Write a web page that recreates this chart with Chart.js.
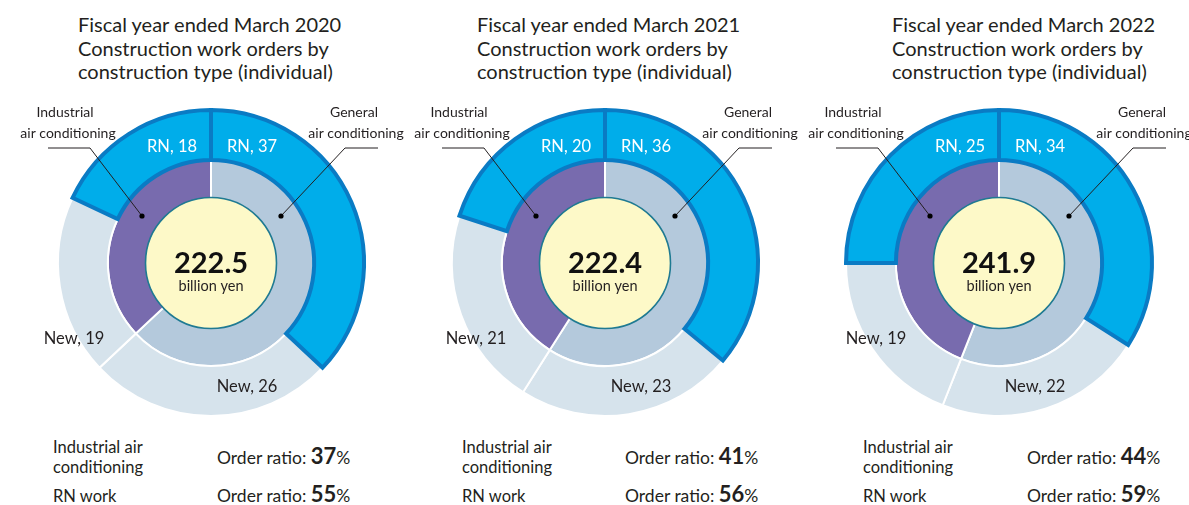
<!DOCTYPE html>
<html>
<head>
<meta charset="utf-8">
<script src="https://cdn.jsdelivr.net/npm/chart.js@4.4.1/dist/chart.umd.min.js"></script>
<style>
  body { margin: 0; width: 1189px; height: 505px; overflow: hidden; background: #fff;
         font-family: Lato, "Open Sans", sans-serif; color: #231f20; position: relative; }
  .title { position: absolute; top: 13px; font-size: 20px; line-height: 23.5px; white-space: nowrap; }
  .ring { position: absolute; top: 93px; }
  .foot { position: absolute; font-size: 16.5px; line-height: 20px; white-space: nowrap; }
  .ratio { font-size: 17.5px; }
  .ratio b { font-size: 22px; }
</style>
</head>
<body>
<div id="page"></div>
<script>
// values (billion yen shares, %)
const years = ["2020", "2021", "2022"];
const totals = ["222.5", "222.4", "241.9"];
const rnGeneral = [37, 36, 34];
const newGeneral = [26, 23, 22];
const newIndustrial = [19, 21, 19];
const rnIndustrial = [18, 20, 25];
const industrialRatio = [37, 41, 44];
const rnRatio = [55, 56, 59];

const FONT = "Lato, 'Open Sans', sans-serif";
const INK = "#231f20";

// layout per panel
const ringCenterX = [211, 605, 999];
const titleLeft = [78, 477, 892];
const footLeft = [53, 462, 863];
const ratioLeft = [217, 625, 1027];
const newLabelDx = [-137, -129, -123];

const page = document.getElementById("page");

// draws the center disc, labels and pointer lines on top of the rings
const overlay = {
  id: "overlay",
  afterDatasetsDraw(chart) {
    const i = chart.options.plugins.overlay.idx;
    const ctx = chart.ctx;
    const arc = chart.getDatasetMeta(0).data[0];
    const cx = arc.x, cy = arc.y;
    ctx.save();

    // pointer lines
    ctx.strokeStyle = INK;
    ctx.lineWidth = 1;
    ctx.beginPath();
    ctx.moveTo(cx - 163, cy - 115); ctx.lineTo(cx - 121, cy - 115); ctx.lineTo(cx - 69, cy - 47);
    ctx.moveTo(cx + 167, cy - 115); ctx.lineTo(cx + 134, cy - 115); ctx.lineTo(cx + 70, cy - 47);
    ctx.stroke();
    ctx.fillStyle = "#000";
    [[-69, -47], [70, -47]].forEach(p => {
      ctx.beginPath(); ctx.arc(cx + p[0], cy + p[1], 2.6, 0, Math.PI * 2); ctx.fill();
    });

    // center disc
    ctx.beginPath();
    ctx.arc(cx, cy, 65.5, 0, Math.PI * 2);
    ctx.fillStyle = "#fdf9c8";
    ctx.fill();
    ctx.strokeStyle = "#1f7a92";
    ctx.lineWidth = 1.6;
    ctx.stroke();

    ctx.textAlign = "center";
    ctx.fillStyle = "#111";
    ctx.textBaseline = "alphabetic";
    ctx.font = "bold 29px " + FONT;
    ctx.fillText(totals[i], cx, cy + 10);
    ctx.fillStyle = INK;
    ctx.font = "14.5px " + FONT;
    ctx.fillText("billion yen", cx, cy + 28);

    // segment labels
    ctx.textBaseline = "middle";
    ctx.font = "16.5px " + FONT;
    ctx.fillStyle = "#fff";
    ctx.fillText("RN, " + rnIndustrial[i], cx - 39, cy - 116);
    ctx.fillText("RN, " + rnGeneral[i], cx + 41, cy - 116);
    ctx.fillStyle = INK;
    ctx.fillText("New, " + newGeneral[i], cx + 36, cy + 124);
    ctx.fillText("New, " + newIndustrial[i], cx + newLabelDx[i], cy + 76);

    // type labels
    ctx.font = "14px " + FONT;
    ctx.fillText("Industrial", cx - 146, cy - 151);
    ctx.fillText("air conditioning", cx - 143, cy - 130);
    ctx.fillText("General", cx + 143, cy - 151);
    ctx.fillText("air conditioning", cx + 145, cy - 130);
    ctx.restore();
  }
};

years.forEach((yr, i) => {
  const t = document.createElement("div");
  t.className = "title";
  t.style.left = titleLeft[i] + "px";
  t.innerHTML = "Fiscal year ended March " + yr + "<br>Construction work orders by<br>construction type (individual)";
  page.appendChild(t);

  const f1 = document.createElement("div");
  f1.className = "foot";
  f1.style.left = footLeft[i] + "px";
  f1.style.top = "437px";
  f1.innerHTML = "Industrial air<br>conditioning";
  page.appendChild(f1);

  const f2 = document.createElement("div");
  f2.className = "foot";
  f2.style.left = footLeft[i] + "px";
  f2.style.top = "486px";
  f2.textContent = "RN work";
  page.appendChild(f2);

  const r1 = document.createElement("div");
  r1.className = "foot ratio";
  r1.style.left = ratioLeft[i] + "px";
  r1.style.top = "446px";
  r1.innerHTML = "Order ratio: <b>" + industrialRatio[i] + "</b>%";
  page.appendChild(r1);

  const r2 = document.createElement("div");
  r2.className = "foot ratio";
  r2.style.left = ratioLeft[i] + "px";
  r2.style.top = "484px";
  r2.innerHTML = "Order ratio: <b>" + rnRatio[i] + "</b>%";
  page.appendChild(r2);

  const cv = document.createElement("canvas");
  cv.className = "ring";
  cv.width = 400;
  cv.height = 340;
  cv.style.left = (ringCenterX[i] - 200) + "px";
  page.appendChild(cv);

  const total = rnGeneral[i] + newGeneral[i] + newIndustrial[i] + rnIndustrial[i];
  const general = rnGeneral[i] + newGeneral[i];
  const industrial = rnIndustrial[i] + newIndustrial[i];

  new Chart(cv.getContext("2d"), {
    type: "doughnut",
    data: {
      labels: ["New general", "New industrial", "RN industrial", "RN general"],
      datasets: [
        {
          // outer ring starts after RN general so the RN arcs are drawn last
          data: [newGeneral[i], newIndustrial[i], rnIndustrial[i], rnGeneral[i]],
          rotation: rnGeneral[i] / total * 360,
          backgroundColor: ["#d6e3ec", "#d6e3ec", "#00adea", "#00adea"],
          borderColor: ["#fff", "#fff", "#0a7bc4", "#0a7bc4"],
          borderWidth: [2, 2, 4, 4],
          borderJoinStyle: "miter",
          weight: 50
        },
        {
          data: [general, industrial],
          backgroundColor: ["#b4c9dc", "#786bae"],
          borderColor: "#fff",
          borderWidth: 2,
          weight: 42
        }
      ]
    },
    options: {
      responsive: false,
      animation: false,
      events: [],
      radius: 153,
      cutout: "40%",
      layout: { padding: 0 },
      plugins: {
        legend: { display: false },
        tooltip: { enabled: false },
        overlay: { idx: i }
      }
    },
    plugins: [overlay]
  });
});
</script>
</body>
</html>
